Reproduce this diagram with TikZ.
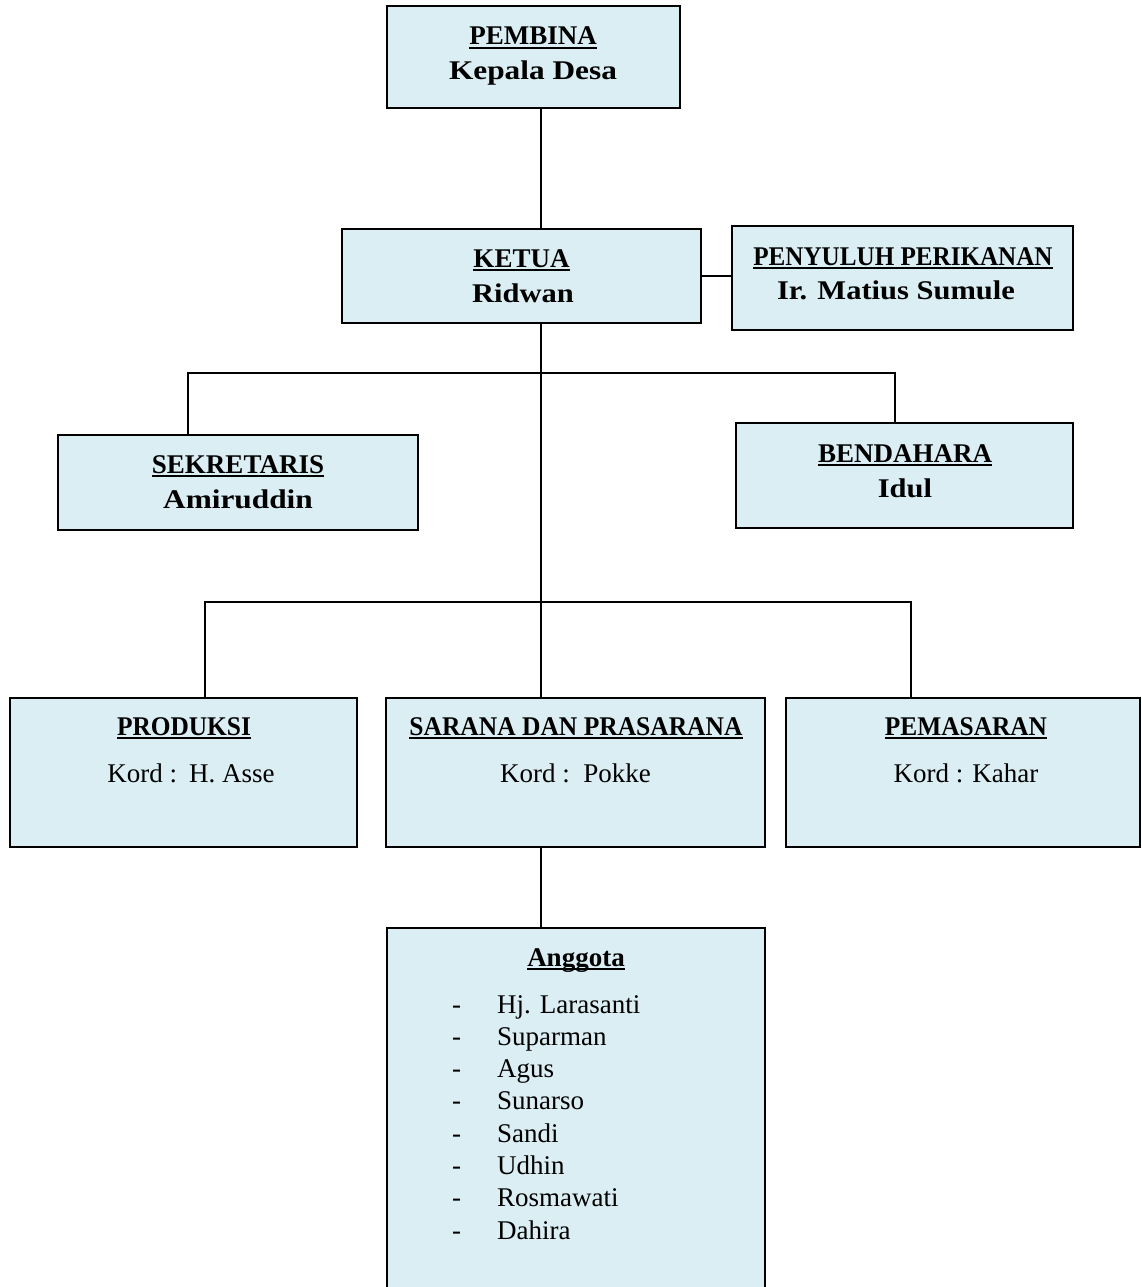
\documentclass[tikz,border=0pt]{standalone}
\usepackage{fontspec}
\setmainfont{Liberation Serif}
\definecolor{boxblue}{HTML}{DAEEF3}
\newcommand{\myul}[1]{\setbox0\hbox{#1}\rlap{\rule[-4pt]{\wd0}{1.8pt}}\box0}
\newcommand{\wide}[1]{\scalebox{1.13}[1]{#1}}
\newcommand{\narrow}[2]{\scalebox{#1}[1]{#2}}
\tikzset{
  orgbox/.style={draw=black, line width=2pt, fill=boxblue, inner sep=0pt, rectangle},
  txt/.style={inner sep=0pt, anchor=base, font=\fontsize{27}{32.3}\selectfont},
  btxt/.style={txt, font=\fontsize{27}{32.3}\selectfont\bfseries},
  conn/.style={draw=black, line width=2pt}
}
\begin{document}
\begin{tikzpicture}[x=1pt,y=-1pt]
\clip (0,0) rectangle (1141,1287);
\fill[white] (0,0) rectangle (1141,1287);
% boxes
\node[orgbox, minimum width=293pt, minimum height=102pt] (pembina) at (533.5,57) {};
\node[orgbox, minimum width=359pt, minimum height=94pt] (ketua) at (521.5,276) {};
\node[orgbox, minimum width=341pt, minimum height=104pt] (penyuluh) at (902.5,278) {};
\node[orgbox, minimum width=360pt, minimum height=95pt] (sekretaris) at (238,482.5) {};
\node[orgbox, minimum width=337pt, minimum height=105pt] (bendahara) at (904.5,475.5) {};
\node[orgbox, minimum width=347pt, minimum height=149pt] (produksi) at (183.5,772.5) {};
\node[orgbox, minimum width=379pt, minimum height=149pt] (sarana) at (575.5,772.5) {};
\node[orgbox, minimum width=354pt, minimum height=149pt] (pemasaran) at (963,772.5) {};
\node[orgbox, minimum width=378pt, minimum height=372pt] (anggota) at (576,1114) {};
% connector coordinates
\coordinate (t) at (541,0);
\coordinate (b1) at (188,373);
\coordinate (b2) at (895,373);
\coordinate (c1) at (205,602);
\coordinate (c2) at (911,602);
% connectors
\draw[conn] (pembina.south -| t) -- (ketua.north -| t);
\draw[conn] (ketua.east) -- (ketua.east -| penyuluh.west);
\draw[conn] (ketua.south -| t) -- (sarana.north -| t);
\draw[conn] (sekretaris.north -| b1) -- (b1) -- (b2) -- (bendahara.north -| b2);
\draw[conn] (produksi.north -| c1) -- (c1) -- (c2) -- (pemasaran.north -| c2);
\draw[conn] (sarana.south -| t) -- (anggota.north -| t);
% texts
\node[btxt] (pembina1) at (533,45) {\myul{PEMBINA}};
\node[btxt] (pembina2) at (533,80) {\scalebox{1.16}[1]{Kepala Desa}};
\node[btxt] (ketua1) at (521.5,267) {\myul{KETUA}};
\node[btxt] (ketua2) at (523,302) {\wide{Ridwan}};
\node[btxt] (peny1) at (903,265) {\myul{\narrow{0.93}{PENYULUH PERIKANAN}}};
\node[btxt] (peny2) at (896,299) {\wide{Ir. Matius Sumule}};
\node[btxt] (sek1) at (238,473) {\myul{SEKRETARIS}};
\node[btxt] (sek2) at (238,508) {\scalebox{1.16}[1]{Amiruddin}};
\node[btxt] (ben1) at (905,462) {\myul{BENDAHARA}};
\node[btxt] (ben2) at (905,497) {\wide{Idul}};
\node[btxt] (prod1) at (184,735) {\myul{\narrow{0.94}{PRODUKSI}}};
\node[txt] (prod2) at (191,782) {Kord :\hspace{12pt}H. Asse};
\node[btxt] (sar1) at (576,735) {\myul{\narrow{0.945}{SARANA DAN PRASARANA}}};
\node[txt] (sar2) at (575.5,782) {Kord :\ \ Pokke};
\node[btxt] (pem1) at (966,735) {\myul{\narrow{0.94}{PEMASARAN}}};
\node[txt] (pem2) at (966,782) {Kord : Kahar};
\node[btxt] (ang1) at (576,966) {\myul{Anggota}};
\node[txt, anchor=base west] (anglist) at (452,1013) {%
  \begin{tabular}[t]{@{}p{45pt}@{}l@{}}
  - & Hj. Larasanti\\
  - & Suparman\\
  - & Agus\\
  - & Sunarso\\
  - & Sandi\\
  - & Udhin\\
  - & Rosmawati\\
  - & Dahira
  \end{tabular}};
\end{tikzpicture}
\end{document}
